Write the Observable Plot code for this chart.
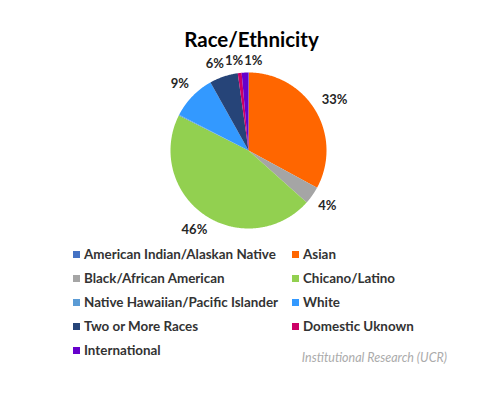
<!DOCTYPE html>
<html><head><meta charset="utf-8">
<script src="https://cdn.jsdelivr.net/npm/d3@7"></script>
<script src="https://cdn.jsdelivr.net/npm/@observablehq/plot@0.6"></script>
<style>
body{margin:0;background:#fff;font-family:Lato,"Open Sans",sans-serif;}
#wrap{position:relative;width:495px;height:400px;overflow:hidden;}
#title{position:absolute;top:27px;left:0;width:503px;text-align:center;font-weight:bold;font-size:20.5px;color:#000;}
#chart{position:absolute;top:50px;left:0;}
#legend{position:absolute;top:245px;left:73px;display:grid;grid-template-columns:219px auto;grid-auto-rows:24px;font-size:13.4px;font-weight:bold;color:#333;}
#legend .item{display:flex;align-items:center;height:18px;}
#legend .sw{width:7px;height:7px;margin-right:4px;flex:none;}
#caption{position:absolute;top:350px;left:0;width:447px;text-align:right;font-style:italic;font-size:12.5px;color:#ababab;}
</style></head>
<body><div id="wrap">
<div id="title">Race/Ethnicity</div>
<div id="chart"></div>
<div id="legend"></div>
<div id="caption">Institutional Research (UCR)</div>
</div>
<script>
const categories = ["American Indian/Alaskan Native","Asian","Black/African American","Chicano/Latino","Native Hawaiian/Pacific Islander","White","Two or More Races","Domestic Uknown","International"];
const values = [0.1, 32.8, 3.7, 45.8, 0.2, 9.3, 5.9, 0.8, 1.4];
const colors = ["#4472C4","#FF6600","#A5A5A5","#92D050","#5B9BD5","#3399FF","#264478","#CC0066","#6600CC"];

const W = 495, H = 200, CX = 248, CY = 100, R = 78;
const FS = 13;
const total = d3.sum(values);
const polys = [];
const labels = [];
let acc = 0;
const ctx = document.createElement("canvas").getContext("2d");
ctx.font = `bold ${FS}px Lato`;
values.forEach((v, i) => {
  const a0 = acc / total * 2 * Math.PI;
  acc += v;
  const a1 = acc / total * 2 * Math.PI;
  polys.push({x: 0, y: 0, cat: categories[i]});
  const n = Math.max(2, Math.ceil((a1 - a0) / 0.01));
  for (let k = 0; k <= n; k++) {
    const a = a0 + (a1 - a0) * k / n;
    polys.push({x: R * Math.sin(a), y: R * Math.cos(a), cat: categories[i]});
  }
  polys.push({x: 0, y: 0, cat: categories[i]});
  if (v >= 0.5) {
    const am = (a0 + a1) / 2;
    const t = Math.round(v) + "%";
    const w = ctx.measureText(t).width;
    const d = R + 11 + (w / 2) * Math.abs(Math.sin(am));
    labels.push({x: d * Math.sin(am), y: d * Math.cos(am), text: t, w});
  }
});
for (let it = 0; it < 60; it++) {
  for (let i = 0; i < labels.length; i++) for (let j = 0; j < labels.length; j++) {
    if (i === j) continue;
    const A = labels[i], B = labels[j];
    if (Math.abs(A.y - B.y) > 12) continue;
    const need = (A.w + B.w) / 2 + 1;
    const dx = B.x - A.x;
    if (Math.abs(dx) < need && dx >= 0) {
      const s = (need - dx) / 2;
      A.x -= s; B.x += s;
    }
  }
}

const chart = Plot.plot({
  width: W, height: H, margin: 0,
  x: {domain: [-CX, W - CX], axis: null},
  y: {domain: [-(H - CY), CY], axis: null},
  color: {domain: categories, range: colors},
  marks: [
    Plot.line(polys, {x: "x", y: "y", z: "cat", fill: "cat", stroke: "none", curve: "linear"}),
    Plot.text(labels, {x: "x", y: "y", text: "text", fontSize: FS, fontWeight: "bold", fill: "#262626", fontFamily: "Lato"})
  ]
});
document.getElementById("chart").appendChild(chart);

const lg = document.getElementById("legend");
categories.forEach((c, i) => {
  const d = document.createElement("div");
  d.className = "item";
  d.innerHTML = `<span class="sw" style="background:${colors[i]}"></span><span>${c}</span>`;
  lg.appendChild(d);
});
</script>
</body></html>
